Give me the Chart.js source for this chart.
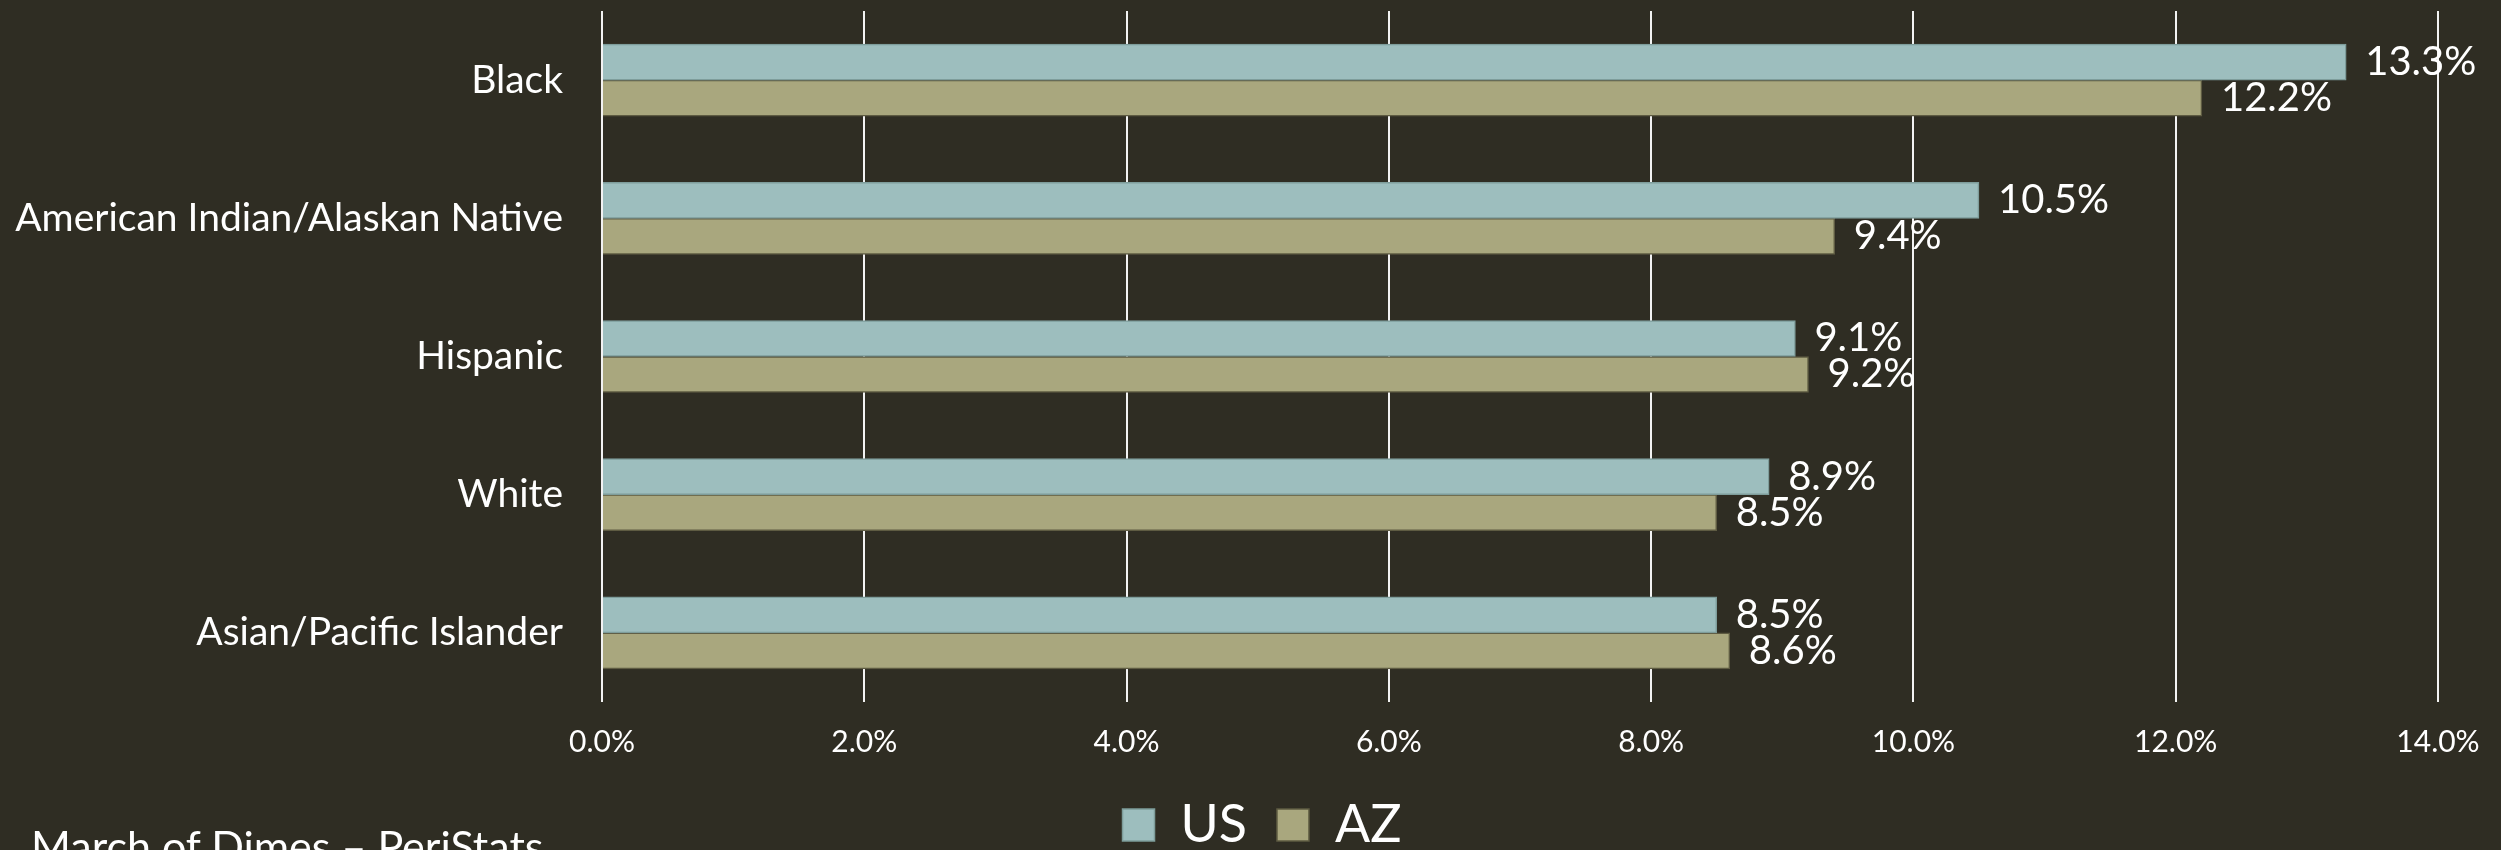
<!DOCTYPE html>
<html>
<head>
<meta charset="utf-8">
<script src="https://cdn.jsdelivr.net/npm/chart.js@4"></script>
<style>
  html, body { margin: 0; padding: 0; background: #2F2D23; overflow: hidden; }
  #wrap { position: relative; width: 2501px; height: 861px; }
  #note { position: absolute; left: 31px; top: 824px; font-family: Lato, sans-serif; font-size: 43px; line-height: 43px; color: #FFFFFF; white-space: nowrap; }
</style>
</head>
<body>
<div id="wrap">
  <canvas id="c" width="2501" height="861"></canvas>
  <div id="note">March of Dimes – PeriStats</div>
</div>
<script>
const categories = ["Black", "American Indian/Alaskan Native", "Hispanic", "White", "Asian/Pacific Islander"];
const usValues = [13.3, 10.5, 9.1, 8.9, 8.5];
const azValues = [12.2, 9.4, 9.2, 8.5, 8.6];
const seriesNames = ["US", "AZ"];
const xMin = 0, xMax = 14, xStep = 2;

const valueLabels = {
  id: 'valueLabels',
  afterLayout(chart) {
    // let the category labels extend to the left canvas edge (avoid clipping)
    chart.scales.y.left = 0;
  },
  afterDatasetsDraw(chart) {
    const ctx = chart.ctx;
    ctx.save();
    ctx.font = '40px Lato, sans-serif';
    ctx.fillStyle = '#FFFFFF';
    ctx.textBaseline = 'middle';
    ctx.textAlign = 'left';
    chart.data.datasets.forEach((ds, di) => {
      const meta = chart.getDatasetMeta(di);
      meta.data.forEach((bar, i) => {
        ctx.fillText(ds.data[i].toFixed(1) + '%', bar.x + 19, bar.y);
      });
    });
    ctx.restore();
  }
};

new Chart(document.getElementById('c'), {
  type: 'bar',
  data: {
    labels: categories,
    datasets: [
      { label: seriesNames[0], data: usValues, backgroundColor: '#9DBEBE', borderColor: '#7E9D9B', borderWidth: 1.5, barThickness: 36 },
      { label: seriesNames[1], data: azValues, backgroundColor: '#A9A77E', borderColor: '#5E5B42', borderWidth: 1.5, barThickness: 36 }
    ]
  },
  options: {
    indexAxis: 'y',
    responsive: false,
    animation: false,
    layout: { padding: { left: 86, right: 63, top: 11, bottom: 0 } },
    scales: {
      x: {
        min: xMin, max: xMax,
        grid: { color: '#F2F2F2', lineWidth: 2, drawTicks: false },
        border: { display: false },
        ticks: {
          stepSize: xStep,
          padding: 22,
          color: '#FFFFFF',
          font: { family: 'Lato, sans-serif', size: 30 },
          callback: v => Number(v).toFixed(1) + '%'
        },
        afterFit: s => { s.height = 67; s.paddingLeft = 0; s.paddingRight = 0; }
      },
      y: {
        grid: { display: false, drawTicks: false },
        border: { display: false },
        ticks: {
          padding: 39,
          color: '#FFFFFF',
          font: { family: 'Lato, sans-serif', size: 39 }
        },
        afterFit: s => { s.width = 516; s.paddingTop = 0; s.paddingBottom = 0; }
      }
    },
    plugins: {
      legend: {
        position: 'bottom',
        labels: {
          color: '#FFFFFF',
          font: { family: 'Lato, sans-serif', size: 52 },
          boxWidth: 32,
          boxHeight: 32,
          padding: 30
        }
      },
      tooltip: { enabled: false }
    }
  },
  plugins: [valueLabels]
});
</script>
</body>
</html>
